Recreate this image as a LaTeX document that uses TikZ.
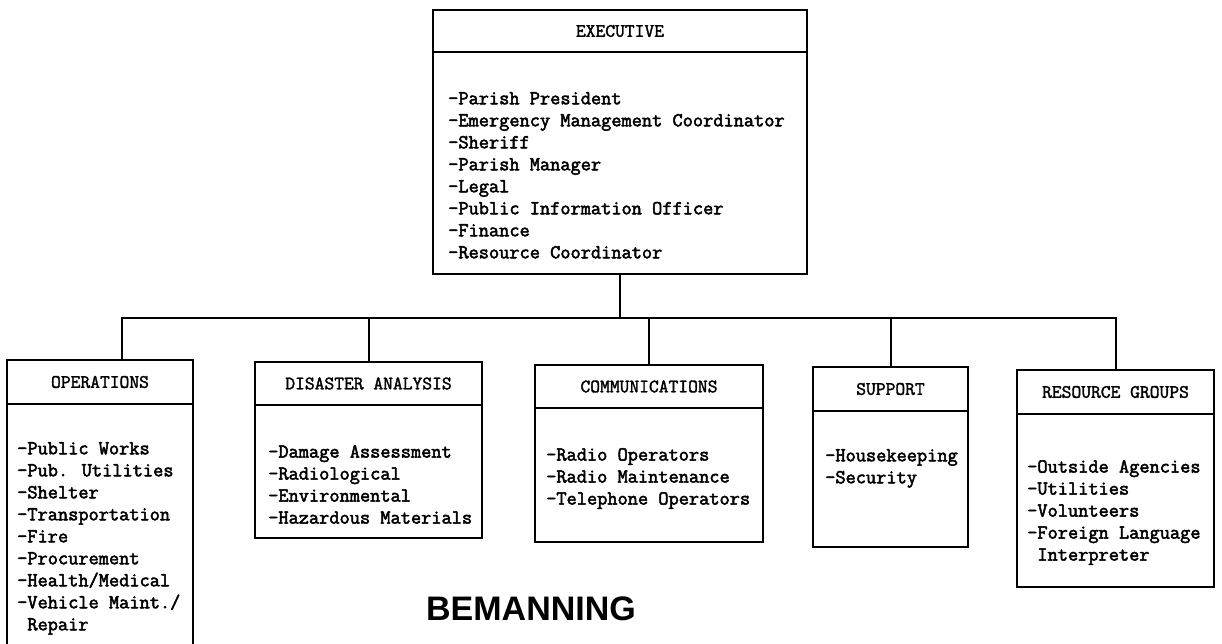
\documentclass[tikz,border=0pt]{standalone}
\usepackage{fontspec}
\newfontfamily\monof[FakeBold=2.5]{Latin Modern Mono}
\newfontfamily\monoh[FakeBold=1.8]{Latin Modern Mono}
\newfontfamily\bsans{Liberation Sans}
\tikzset{
  hdr/.style={draw, line width=2pt, inner sep=0pt, font=\monoh\fontsize{19}{22}\selectfont},
  bodybox/.style={draw, line width=2pt, inner sep=0pt},
  items/.style={anchor=north west, inner sep=0pt, align=left, font=\monof\fontsize{19.8}{22}\selectfont},
  conn/.style={line width=2pt}
}
\begin{document}
\begin{tikzpicture}[x=1pt,y=-1pt]
\useasboundingbox (0,0) rectangle (1222,644);
\clip (0,0) rectangle (1222,644);
\fill[white] (0,0) rectangle (1222,644);
% Executive
\node[hdr, minimum width=374pt, minimum height=42pt] (exech) at (620,31) {EXECUTIVE};
\node[bodybox, minimum width=374pt, minimum height=222pt] (execb) at (620,163) {};
\node[items] (execl) at (448,92) {-Parish President\\-Emergency Management Coordinator\\-Sheriff\\-Parish Manager\\-Legal\\-Public Information Officer\\-Finance\\-Resource Coordinator};
% Operations
\node[hdr, minimum width=186pt, minimum height=44pt] (opsh) at (100,382) {OPERATIONS};
\node[bodybox, minimum width=186pt, minimum height=256pt] (opsb) at (100,532) {};
\node[items] (opsl) at (17,442) {-Public Works\\-Pub. Utilities\\-Shelter\\-Transportation\\-Fire\\-Procurement\\-Health/Medical\\-Vehicle Maint./\\\phantom{-}Repair};
% Disaster analysis
\node[hdr, minimum width=227pt, minimum height=43pt] (dish) at (368.5,383.5) {DISASTER ANALYSIS};
\node[bodybox, minimum width=227pt, minimum height=133pt] (disb) at (368.5,471.5) {};
\node[items] (disl) at (268,445) {-Damage Assessment\\-Radiological\\-Environmental\\-Hazardous Materials};
% Communications
\node[hdr, minimum width=228pt, minimum height=43pt] (comh) at (649,386.5) {COMMUNICATIONS};
\node[bodybox, minimum width=228pt, minimum height=134pt] (comb) at (649,475) {};
\node[items] (coml) at (546,448) {-Radio Operators\\-Radio Maintenance\\-Telephone Operators};
% Support
\node[hdr, minimum width=155pt, minimum height=44pt] (suph) at (890.5,389) {SUPPORT};
\node[bodybox, minimum width=155pt, minimum height=136pt] (supb) at (890.5,479) {};
\node[items] (supl) at (825,449) {-Housekeeping\\-Security};
% Resource groups
\node[hdr, minimum width=197pt, minimum height=44pt] (resh) at (1115.5,392) {RESOURCE GROUPS};
\node[bodybox, minimum width=197pt, minimum height=173pt] (resb) at (1115.5,500.5) {};
\node[items] (resl) at (1027,460) {-Outside Agencies\\-Utilities\\-Volunteers\\-Foreign Language\\\phantom{-}Interpreter};
% Connectors
\coordinate (bus) at (620,318);
\draw[conn] (execb.south) -- (execb.south |- bus);
\draw[conn] ([xshift=22pt]opsh.north) |- (resh.north |- bus) -- (resh.north);
\draw[conn] (dish.north) -- (dish.north |- bus);
\draw[conn] (comh.north) -- (comh.north |- bus);
\draw[conn] (suph.north) -- (suph.north |- bus);
% Title
\node[anchor=base, inner sep=0pt, font=\bsans\bfseries\fontsize{34}{40}\selectfont] (title) at (531,620) {BEMANNING};
\end{tikzpicture}
\end{document}
